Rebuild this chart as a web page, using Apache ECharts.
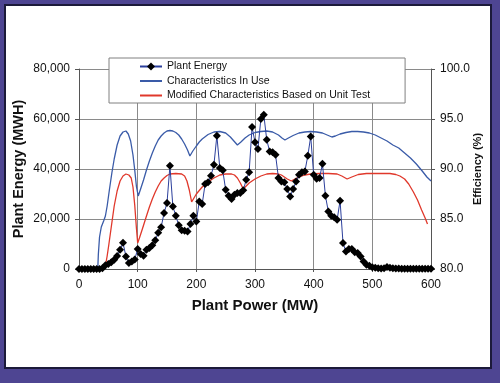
<!DOCTYPE html>
<html>
<head>
<meta charset="utf-8">
<script src="https://cdn.jsdelivr.net/npm/echarts@6/dist/echarts.min.js"></script>
<style>
html,body{margin:0;padding:0;background:#4f4795;}
#c{width:500px;height:383px;}
</style>
</head>
<body>
<div id="c"></div>
<script>
// ---- data ----
var xTicks = [0, 100, 200, 300, 400, 500, 600];
var energyMW = [0,5,10,15,20,25,30,35,40,45,50,55,60,65,70,75,80,85,90,95,100,105,110,115,120,125,130,135,140,145,150,155,160,165,170,175,180,185,190,195,200,205,210,215,220,225,230,235,240,245,250,255,260,265,270,275,280,285,290,295,300,305,310,315,320,325,330,335,340,345,350,355,360,365,370,375,380,385,390,395,400,405,410,415,420,425,430,435,440,445,450,455,460,465,470,475,480,485,490,495,500,505,510,515,520,525,530,535,540,545,550,555,560,565,570,575,580,585,590,595,600];
var energyMWH = [0,0,0,0,0,0,0,0,300,1500,2000,2700,3700,5200,7700,10500,5000,2400,3000,3800,8000,6000,5300,7700,8400,9500,11500,14500,16700,22400,26400,41300,25000,21300,17500,15500,15300,15000,18000,21300,19000,27000,26000,34000,34700,37300,41700,53300,40400,39500,31700,29300,28000,29700,30400,30400,31500,35700,38700,56800,50700,48000,60000,61700,51700,47000,46700,45700,36400,35000,34700,32000,29000,32000,35000,37700,38700,39000,45300,53000,37700,36100,36400,42100,29300,23000,21300,20700,19700,27300,10400,7000,8000,8000,6700,6400,5000,3000,1700,1300,700,500,300,200,300,800,500,300,200,200,100,100,100,100,100,100,100,100,100,100,100];
var inUseMW = [32,33,35,38,42,45,48,52,56,60,65,70,75,80,84,88,92,95,98,101,105,110,115,120,125,130,135,140,145,150,155,160,165,170,175,180,185,189,194,200,205,210,220,230,240,250,258,264,270,276,283,290,300,310,320,330,340,346,351,357,365,375,385,395,405,415,425,431,437,445,455,465,475,485,495,505,515,525,535,545,555,565,575,585,593,600];
var inUseEff = [80,81.5,83.2,84.2,84.8,85.3,86.3,88,89.6,91.0,92.4,93.3,93.7,93.8,93.5,92.8,91.4,89.9,88.2,87.3,88.0,88.9,89.9,90.8,91.6,92.3,92.9,93.3,93.6,93.8,93.85,93.8,93.65,93.4,93.0,92.5,91.9,91.3,91.8,92.3,92.7,93.0,93.45,93.7,93.75,93.6,93.2,92.8,92.4,92.7,93.1,93.4,93.65,93.75,93.8,93.7,93.4,93.1,92.9,93.1,93.35,93.6,93.7,93.75,93.7,93.6,93.35,93.2,93.3,93.5,93.65,93.75,93.75,93.7,93.6,93.4,93.1,92.8,92.4,92.1,91.6,91.1,90.5,89.8,89.2,88.8];
var modMW = [42,45,48,51,55,60,65,70,75,80,85,89,92,95,98,100,103,108,115,120,125,130,135,140,145,150,155,165,175,180,184,188,192,196,200,210,220,230,240,250,260,265,270,275,280,285,290,300,310,320,330,340,345,350,355,362,368,375,385,395,410,425,440,448,457,465,476,490,510,530,540,547,555,562,570,577,584,590,594];
var modEff = [80,80.3,81.3,82.5,84.2,86.3,87.8,88.8,89.3,89.5,89.4,89.1,88.2,86.4,84.0,82.6,83.1,84.0,85.3,86.2,87.0,87.7,88.3,88.8,89.1,89.35,89.5,89.55,89.5,89.3,88.8,87.9,86.7,87.1,87.5,88.2,88.7,89.1,89.4,89.5,89.5,89.4,89.1,88.6,88.0,88.3,88.6,89.0,89.3,89.5,89.55,89.5,89.4,89.2,89.0,88.8,89.0,89.2,89.4,89.5,89.55,89.55,89.5,89.3,89.0,89.2,89.45,89.55,89.55,89.55,89.45,89.3,89.0,88.5,87.7,86.9,85.9,85.1,84.5];

function zip(a, b) { return a.map(function (v, i) { return [v, b[i]]; }); }
function commas(v) { return String(v).replace(/\B(?=(\d{3})+(?!\d))/g, ','); }

var FONT = "'Liberation Sans', Arial, sans-serif";
var chart = echarts.init(document.getElementById('c'), null, {renderer: 'canvas'});
chart.setOption({
  backgroundColor: '#4e4592',
  animation: false,
  textStyle: {fontFamily: FONT},
  graphic: [
    {type: 'rect', z: -100, shape: {x: 5, y: 5, width: 486, height: 363},
     style: {fill: '#ffffff', stroke: '#1c1a3a', lineWidth: 2}}
  ],
  grid: {left: 79, right: 69, top: 69, bottom: 114, containLabel: false},
  legend: {
    left: 109, top: 58, orient: 'vertical',
    padding: [2, 35, 1, 30], itemGap: 1.5, itemWidth: 22, itemHeight: 10,
    borderColor: '#808080', borderWidth: 1, backgroundColor: '#ffffff',
    textStyle: {fontSize: 10.5, color: '#111', fontFamily: FONT, lineHeight: 13},
    data: [
      {name: 'Plant Energy'},
      {name: 'Characteristics In Use', itemStyle: {opacity: 0}},
      {name: 'Modified Characteristics Based on Unit Test', itemStyle: {opacity: 0}}
    ]
  },
  xAxis: {
    type: 'value', min: 0, max: 600, interval: 100,
    name: 'Plant Power (MW)', nameLocation: 'middle', nameGap: 29,
    nameTextStyle: {fontSize: 15, fontWeight: 'bold', color: '#111', fontFamily: FONT},
    axisLine: {show: true, lineStyle: {color: '#555', width: 1}},
    axisTick: {show: true, length: 3, lineStyle: {color: '#555'}},
    axisLabel: {fontSize: 12, color: '#111', margin: 10, fontFamily: FONT},
    splitLine: {show: true, lineStyle: {color: '#8a8a8a', width: 1}}
  },
  yAxis: [
    {
      type: 'value', min: 0, max: 80000, interval: 20000, position: 'left',
      name: 'Plant Energy (MWH)', nameLocation: 'middle', nameGap: 53, nameMoveOverlap: false,
      nameTextStyle: {fontSize: 14.5, fontWeight: 'bold', color: '#111', fontFamily: FONT},
      axisLine: {show: true, lineStyle: {color: '#555', width: 1}},
      axisTick: {show: true, length: 4, lineStyle: {color: '#555'}},
      axisLabel: {fontSize: 12, color: '#111', margin: 9, formatter: commas, fontFamily: FONT},
      splitLine: {show: true, lineStyle: {color: '#8a8a8a', width: 1}}
    },
    {
      type: 'value', min: 80, max: 100, interval: 5, position: 'right',
      name: 'Efficiency (%)', nameLocation: 'middle', nameGap: 41, nameRotate: 90, nameMoveOverlap: false,
      nameTextStyle: {fontSize: 11, fontWeight: 'bold', color: '#111', fontFamily: FONT},
      axisLine: {show: true, lineStyle: {color: '#555', width: 1}},
      axisTick: {show: true, length: 4, lineStyle: {color: '#555'}},
      axisLabel: {fontSize: 12, color: '#111', margin: 9, fontFamily: FONT,
        formatter: function (v) { return v.toFixed(1); }},
      splitLine: {show: false}
    }
  ],
  series: [
    {
      name: 'Plant Energy', type: 'line', yAxisIndex: 0,
      data: zip(energyMW, energyMWH),
      symbol: 'diamond', symbolSize: 8, showSymbol: true,
      lineStyle: {color: '#2b3f9c', width: 1},
      itemStyle: {color: '#000000', borderWidth: 0},
      z: 5
    },
    {
      name: 'Characteristics In Use', type: 'line', yAxisIndex: 1,
      data: zip(inUseMW, inUseEff), showSymbol: false, symbol: 'none',
      lineStyle: {color: '#3a5ba8', width: 1.3}, itemStyle: {color: '#3a5ba8'}, z: 3
    },
    {
      name: 'Modified Characteristics Based on Unit Test', type: 'line', yAxisIndex: 1,
      data: zip(modMW, modEff), showSymbol: false, symbol: 'none',
      lineStyle: {color: '#e0382b', width: 1.3}, itemStyle: {color: '#e0382b'}, z: 3
    }
  ]
});
</script>
</body>
</html>
